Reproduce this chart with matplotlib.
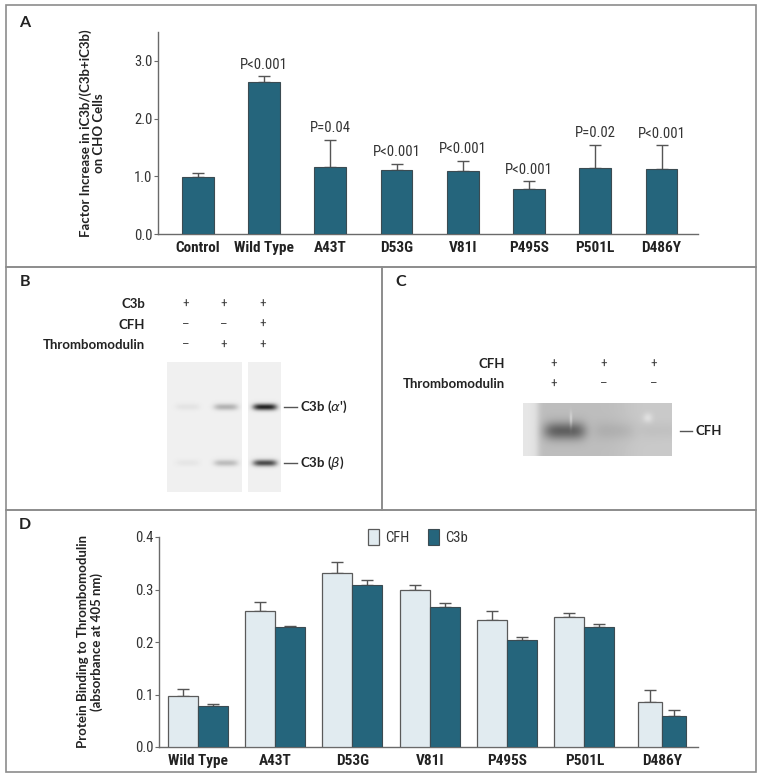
import numpy as np
import matplotlib
matplotlib.use("Agg")
import matplotlib.pyplot as plt
from matplotlib.patches import Rectangle, Patch
from matplotlib import font_manager as fm

# ---------------- data ----------------
catA = ['Control', 'Wild Type', 'A43T', 'D53G', 'V81I', 'P495S', 'P501L', 'D486Y']
valA = [0.98, 2.64, 1.16, 1.11, 1.09, 0.78, 1.14, 1.13]
errA = [0.07, 0.09, 0.47, 0.11, 0.18, 0.13, 0.41, 0.41]
pA = ['', 'P<0.001', 'P=0.04', 'P<0.001', 'P<0.001', 'P<0.001', 'P=0.02', 'P<0.001']
ticksA = [0.0, 1.0, 2.0, 3.0]

catD = ['Wild Type', 'A43T', 'D53G', 'V81I', 'P495S', 'P501L', 'D486Y']
cfh = [0.097, 0.259, 0.331, 0.300, 0.242, 0.248, 0.085]
cfh_err = [0.013, 0.018, 0.021, 0.009, 0.018, 0.008, 0.023]
c3b = [0.078, 0.229, 0.309, 0.267, 0.203, 0.228, 0.059]
c3b_err = [0.003, 0.002, 0.010, 0.008, 0.006, 0.006, 0.011]
ticksD = [0.0, 0.1, 0.2, 0.3, 0.4]

b_rows = ['C3b', 'CFH', 'Thrombomodulin']
b_signs = [['+', '+', '+'], ['–', '–', '+'], ['–', '+', '+']]
b_alpha = [0.05, 0.24, 0.80]   # band darkness per lane, C3b (alpha')
b_beta = [0.04, 0.20, 0.64]    # band darkness per lane, C3b (beta)
c_rows = ['CFH', 'Thrombomodulin']
c_signs = [['+', '+', '+'], ['+', '–', '–']]
c_band = [0.36, 0.06, 0.03]    # CFH band darkness per lane

# ---------------- fonts ----------------
_fonts = fm.fontManager.ttflist
_names = {f.name for f in _fonts}
NARROW_FAM, NARROW_STRETCH = 'Roboto', 'normal'
for cand in ['Liberation Sans Narrow', 'Roboto Condensed', 'Open Sans Condensed', 'Noto Sans Condensed',
             'DejaVu Sans Condensed']:
    if cand in _names:
        NARROW_FAM = cand
        break
else:
    for fam in ['Noto Sans', 'Open Sans', 'DejaVu Sans', 'Roboto']:
        if any(f.name == fam and str(f.stretch) in ('condensed', 'semi-condensed', '87.5', '75', '600', '500')
               for f in _fonts):
            NARROW_FAM, NARROW_STRETCH = fam, 'condensed'
            break
NARROW = [NARROW_FAM, 'DejaVu Sans']
BOLDF = ['Lato', 'DejaVu Sans']
NK = dict(family=NARROW, fontstretch=NARROW_STRETCH)

# ---------------- style ----------------
W, H = 762, 778
TEAL = '#25657c'
LIGHT = '#e1ebf0'
FRAME = '#8c8c8c'

fig = plt.figure(figsize=(W / 100, H / 100), dpi=100)


def rect(x0, y0, x1, y1):
    return [x0 / W, 1 - y1 / H, (x1 - x0) / W, (y1 - y0) / H]


canvas = fig.add_axes([0, 0, 1, 1], zorder=0)
canvas.set_xlim(0, W)
canvas.set_ylim(H, 0)
canvas.axis('off')

# panel frames
for (x0, y0, x1, y1) in [(6, 5, 756, 267), (6, 267, 382, 510), (382, 267, 756, 510), (6, 510, 756, 772)]:
    canvas.add_patch(Rectangle((x0, y0), x1 - x0, y1 - y0, fill=False, ec=FRAME, lw=1.2))
for lab, (x, y) in zip('ABCD', [(19, 23), (20, 282), (395, 282), (19, 525)]):
    canvas.text(x, y, lab, fontsize=11.5, fontweight='bold', family=BOLDF, ha='left', va='center', color='#222')


def style_axes(ax):
    for s in ['top', 'right']:
        ax.spines[s].set_visible(False)
    for s in ['left', 'bottom']:
        ax.spines[s].set_color('#6a6a6a')
        ax.spines[s].set_linewidth(1.0)
    ax.tick_params(axis='y', length=3, width=0.8, color='#6a6a6a', labelsize=10.5, labelcolor='#333', pad=1)
    ax.tick_params(axis='x', length=0, labelsize=11, pad=5, labelcolor='#222')
    for t in ax.get_yticklabels():
        t.set_family(NARROW)
        t.set_fontstretch(NARROW_STRETCH)
    for t in ax.get_xticklabels():
        t.set_family(NARROW)
        t.set_fontstretch(NARROW_STRETCH)
        t.set_fontweight('bold')
    ax.set_facecolor('none')


# ---------------- panel A ----------------
axA = fig.add_axes(rect(158, 32, 698, 234), zorder=2)
xA = np.arange(len(catA))
axA.bar(xA, valA, width=0.48, color=TEAL, edgecolor='#3b4b52', lw=0.8, zorder=3)
axA.errorbar(xA, valA, yerr=[np.zeros(len(xA)), errA], fmt='none', ecolor='#555',
             elinewidth=1.0, capsize=4.5, capthick=1.0, zorder=2)
for i, p in enumerate(pA):
    if p:
        axA.text(xA[i], valA[i] + errA[i] + 0.08, p, ha='center', va='bottom', fontsize=10.5,
                 color='#333', **NK)
axA.set_xlim(-0.6, 7.55)
axA.set_ylim(0, 3.5)
axA.set_yticks(ticksA)
axA.set_yticklabels([f'{t:.1f}' for t in ticksA])
axA.set_xticks(xA)
axA.set_xticklabels(catA)
axA.set_ylabel('Factor Increase in iC3b/(C3b+iC3b)\non CHO Cells', fontsize=9.5,
               fontweight='bold', family=BOLDF, color='#222', linespacing=1.1)
axA.yaxis.set_label_coords(-0.098, 0.5)
style_axes(axA)

# ---------------- panel D ----------------
axD = fig.add_axes(rect(159, 537, 698, 747), zorder=2)
xD = np.arange(len(catD))
widths = np.array([0.388] * 6 + [0.31])
axD.bar(xD - widths / 2, cfh, width=widths, color=LIGHT, edgecolor='#5a5a5a', lw=0.9, zorder=3, label='CFH')
axD.bar(xD + widths / 2, c3b, width=widths, color=TEAL, edgecolor='#3b4b52', lw=0.8, zorder=3, label='C3b')
axD.errorbar(xD - widths / 2, cfh, yerr=[np.zeros(len(xD)), cfh_err], fmt='none', ecolor='#555',
             elinewidth=1.0, capsize=4.5, capthick=1.0, zorder=2)
axD.errorbar(xD + widths / 2, c3b, yerr=[np.zeros(len(xD)), c3b_err], fmt='none', ecolor='#555',
             elinewidth=1.0, capsize=4.5, capthick=1.0, zorder=2)
axD.set_xlim(-0.5, 6.47)
axD.set_ylim(0, 0.4)
axD.set_yticks(ticksD)
axD.set_yticklabels([f'{t:.1f}' for t in ticksD])
axD.set_xticks(xD)
axD.set_xticklabels(catD)
axD.set_ylabel('Protein Binding to Thrombomodulin\n(absorbance at 405 nm)', fontsize=9.5,
               fontweight='bold', family=BOLDF, color='#222', linespacing=1.1)
axD.yaxis.set_label_coords(-0.104, 0.5)
style_axes(axD)
handles = [Patch(facecolor=LIGHT, edgecolor='#5a5a5a', lw=0.9, label='CFH'),
           Patch(facecolor=TEAL, edgecolor='#3b4b52', lw=0.8, label='C3b')]
leg = axD.legend(handles=handles, loc='center', bbox_to_anchor=(0.48, 1.0), ncol=2, frameon=False,
                 handlelength=0.75, handleheight=1.3, handletextpad=0.4, columnspacing=1.3,
                 prop={'family': NARROW, 'size': 10.5, 'stretch': NARROW_STRETCH})
for t in leg.get_texts():
    t.set_color('#333')

# ---------------- panel B (blot) ----------------
b_lane_x = [188, 226, 265]
for r, (name, signs) in enumerate(zip(b_rows, b_signs)):
    y = 304 + r * 20.5
    canvas.text(145, y, name, ha='right', va='center', fontsize=9.5, fontweight='bold', family=BOLDF, color='#222')
    for lx, s in zip(b_lane_x, signs):
        canvas.text(lx - 2, y, s, ha='center', va='center', fontsize=9.5, color='#444', **NK)


def blot(x0, x1, y0, y1, lanes, bands, bg, sx=12.0, sy=3.3):
    xs = np.arange(x0, x1) + 0.5
    ys = np.arange(y0, y1) + 0.5
    X, Y = np.meshgrid(xs, ys)
    img = np.full(X.shape, bg, dtype=float)
    for by, ints in bands:
        for lx, it in zip(lanes, ints):
            img -= it * np.exp(-((X - lx) / sx) ** 4) * np.exp(-((Y - by) / sy) ** 2)
    return X, Y, img


ya, yb = 407, 463
_, _, imgL = blot(167, 242, 362, 492, b_lane_x[:2], [(ya, b_alpha[:2]), (yb, b_beta[:2])], 0.94)
canvas.imshow(np.clip(imgL, 0, 1), cmap='gray', vmin=0, vmax=1, extent=(167, 242, 492, 362),
              interpolation='bilinear', aspect='auto', zorder=1)
_, _, imgR = blot(248, 281, 362, 492, b_lane_x[2:], [(ya, b_alpha[2:]), (yb, b_beta[2:])], 0.94)
canvas.imshow(np.clip(imgR, 0, 1), cmap='gray', vmin=0, vmax=1, extent=(248, 281, 492, 362),
              interpolation='bilinear', aspect='auto', zorder=1)
for y, lab in [(ya, r"C3b ($\alpha$')"), (yb, r"C3b ($\beta$)")]:
    canvas.plot([284, 297], [y, y], color='#555', lw=1)
    canvas.text(300, y, lab, ha='left', va='center', fontsize=9.5, fontweight='bold', family=BOLDF, color='#222')

# ---------------- panel C (blot) ----------------
c_lane_x = [556, 606, 656]
for r, (name, signs) in enumerate(zip(c_rows, c_signs)):
    y = 364 + r * 20
    canvas.text(505, y, name, ha='right', va='center', fontsize=9.5, fontweight='bold', family=BOLDF, color='#222')
    for lx, s in zip(c_lane_x, signs):
        canvas.text(lx - 2, y, s, ha='center', va='center', fontsize=9.5, color='#444', **NK)

X, Y, imgC = blot(523, 672, 403, 456, [565, 615, 660], [(431, c_band)], 0.74, sx=21.0, sy=9.0)
imgC += 0.16 / (1 + np.exp((X - 538) / 2.0))
imgC += 0.05 / (1 + np.exp(-(X - 625) / 8.0))
imgC += 0.14 * np.exp(-((X - 571) / 1.3) ** 2) * np.exp(-((Y - 421) / 8.0) ** 2)
imgC += 0.09 * np.exp(-(((X - 648) / 5.0) ** 2 + ((Y - 418) / 5.0) ** 2))
canvas.imshow(np.clip(imgC, 0, 1), cmap='gray', vmin=0, vmax=1, extent=(523, 672, 456, 403),
              interpolation='bilinear', aspect='auto', zorder=1)
canvas.plot([680, 692], [431, 431], color='#555', lw=1)
canvas.text(696, 431, 'CFH', ha='left', va='center', fontsize=9.5, fontweight='bold', family=BOLDF, color='#222')

fig.savefig('out.png', dpi=100)
